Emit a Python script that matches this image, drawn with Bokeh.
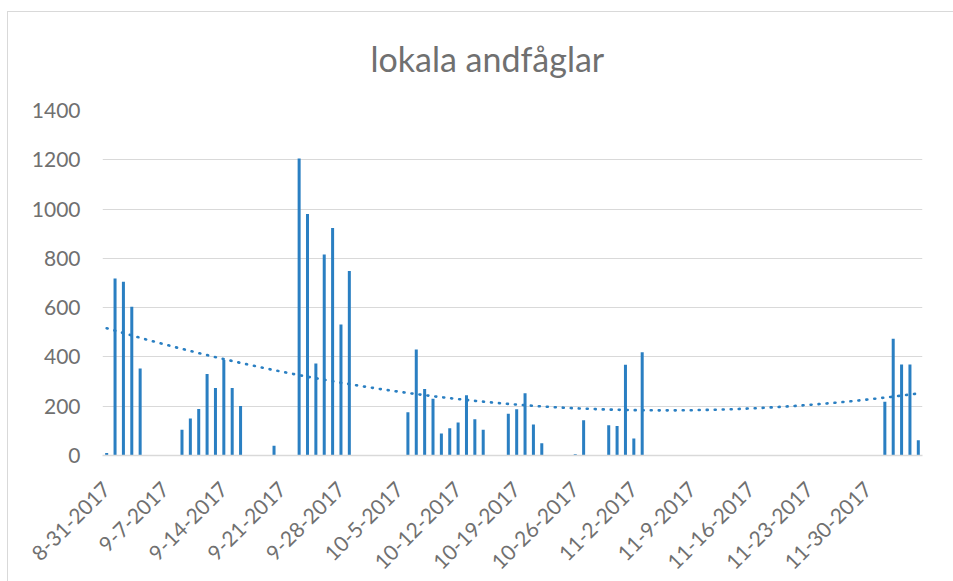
import math
import numpy as np
import pandas as pd
from bokeh.plotting import figure
from bokeh.models import FixedTicker, ColumnDataSource, InlineStyleSheet
from bokeh.embed import file_html
from bokeh.resources import INLINE

title_text = "lokala andfåglar"
start_date = "2017-08-31"

# counted days (value 0 = counted, no ducks: draws no bar but enters the trendline)
dates = [
    "2017-08-31", "2017-09-01", "2017-09-02", "2017-09-03", "2017-09-04",
    "2017-09-09", "2017-09-10", "2017-09-11", "2017-09-12", "2017-09-13",
    "2017-09-14", "2017-09-15", "2017-09-16", "2017-09-20", "2017-09-23",
    "2017-09-24", "2017-09-25", "2017-09-26", "2017-09-27", "2017-09-28",
    "2017-09-29", "2017-10-05", "2017-10-06", "2017-10-07", "2017-10-08",
    "2017-10-09", "2017-10-10", "2017-10-11", "2017-10-12", "2017-10-13",
    "2017-10-14", "2017-10-15", "2017-10-16", "2017-10-17", "2017-10-18",
    "2017-10-19", "2017-10-20", "2017-10-21", "2017-10-22", "2017-10-23",
    "2017-10-24", "2017-10-25", "2017-10-26", "2017-10-27", "2017-10-30",
    "2017-10-31", "2017-11-01", "2017-11-02", "2017-11-03", "2017-12-02",
    "2017-12-03", "2017-12-04", "2017-12-05", "2017-12-06",
]
counts = [
    10, 718, 705, 604, 353,
    105, 150, 189, 331, 274,
    388, 274, 201, 40, 1205,
    980, 373, 816, 923, 532,
    749, 0, 176, 430, 270,
    230, 89, 111, 134, 245,
    147, 105, 0, 0, 169,
    188, 253, 126, 50, 0,
    0, 0, 5, 143, 123,
    120, 368, 69, 419, 218,
    474, 369, 369, 62,
]
tick_labels = [
    "8-31-2017", "9-7-2017", "9-14-2017", "9-21-2017", "9-28-2017",
    "10-5-2017", "10-12-2017", "10-19-2017", "10-26-2017", "11-2-2017",
    "11-9-2017", "11-16-2017", "11-23-2017", "11-30-2017",
]
y_ticks = [0, 200, 400, 600, 800, 1000, 1200, 1400]
trend_order = 2

bar_color = "#2a7fc2"
text_color = "#707070"
grid_color = "#d9d9d9"
font = "Lato"

t0 = pd.Timestamp(start_date)
day = (pd.to_datetime(dates) - t0).days.to_numpy().astype(float)
vals = np.array(counts, dtype=float)
tick_days = [int(d) for d in (pd.to_datetime(tick_labels, format="%m-%d-%Y") - t0).days]

src = ColumnDataSource(dict(day=day, count=vals))

p = figure(width=953, height=581,
           x_range=(day.min() - 0.5, day.max() + 0.5),
           y_range=(y_ticks[0], y_ticks[-1]),
           output_backend="svg", toolbar_location=None,
           min_border_left=102, min_border_right=31,
           min_border_top=110, min_border_bottom=126)
p.outline_line_color = None
p.background_fill_color = "white"
p.border_fill_color = "white"

p.vbar(x="day", top="count", width=0.36, source=src,
       fill_color=bar_color, line_color=None)

# polynomial (order 2) trendline over the dates, as in the spreadsheet chart
coef = np.polyfit(day, vals, trend_order)
xs = np.linspace(day.min(), day.max(), 300)
ys = np.polyval(coef, xs)
p.line(xs, ys, line_color=bar_color, line_width=2.6, line_dash="1 7",
       line_cap="round")

# axes
p.xaxis.ticker = FixedTicker(ticks=tick_days)
p.xaxis.major_label_overrides = {d: lbl for d, lbl in zip(tick_days, tick_labels)}
p.xaxis.major_label_orientation = math.pi / 4
p.xaxis.major_tick_line_color = None
p.xaxis.minor_tick_line_color = None
p.xaxis.axis_line_color = grid_color
p.xaxis.axis_line_width = 1.5
p.xaxis.major_label_standoff = 30

p.yaxis.ticker = FixedTicker(ticks=y_ticks)
p.yaxis.axis_line_color = None
p.yaxis.major_tick_line_color = None
p.yaxis.minor_tick_line_color = None
p.yaxis.major_label_standoff = 22

for ax in (p.xaxis, p.yaxis):
    ax.major_tick_out = 0
    ax.major_tick_in = 0
    ax.minor_tick_out = 0
    ax.minor_tick_in = 0
    ax.major_label_text_font = font
    ax.major_label_text_font_size = "21px"
    ax.major_label_text_color = text_color

p.xgrid.grid_line_color = None
p.ygrid.ticker = FixedTicker(ticks=y_ticks)
p.ygrid.grid_line_color = grid_color
p.ygrid.grid_line_width = 1

p.title.text = title_text
p.title.align = "left"
p.title.offset = 268
p.title.text_font = font
p.title.text_font_size = "34px"
p.title.text_font_style = "normal"
p.title.text_color = text_color
p.title.standoff = 64

p.stylesheets = [InlineStyleSheet(css=(
    ":host::after { content: ''; position: absolute; left: 7px; top: 11px; "
    "width: 1200px; height: 1200px; border: 1px solid #d9d9d9; "
    "pointer-events: none; box-sizing: border-box; }"
))]

open("out.html", "w").write(file_html(p, INLINE))
